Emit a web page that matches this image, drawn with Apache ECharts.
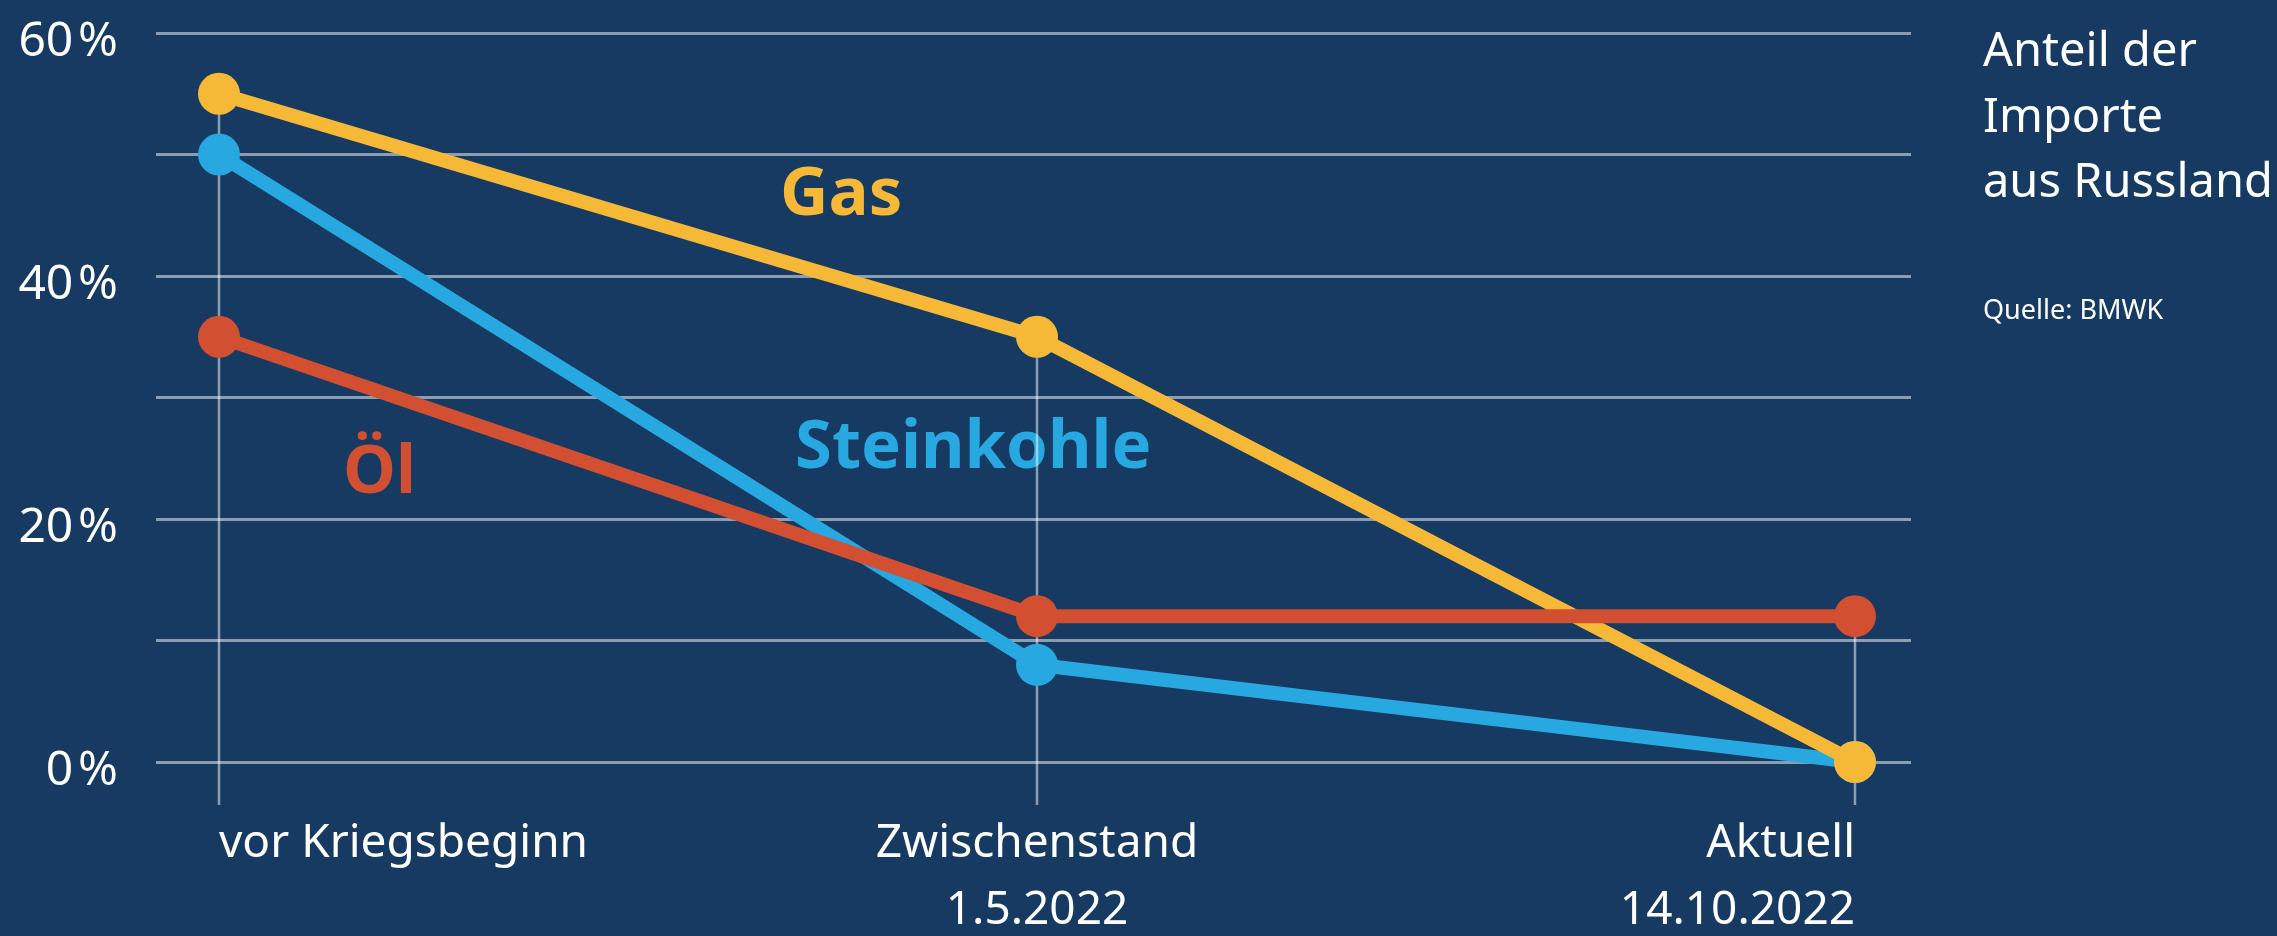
<!DOCTYPE html>
<html>
<head>
<meta charset="utf-8">
<style>
  html, body { margin: 0; padding: 0; background: #163a61; }
  #chart { width: 2277px; height: 936px; }
</style>
<script src="https://cdn.jsdelivr.net/npm/echarts@6/dist/echarts.min.js"></script>
</head>
<body>
<div id="chart"></div>
<script>
const categories = ['vor Kriegsbeginn', 'Zwischenstand\n1.5.2022', 'Aktuell\n14.10.2022']
const gas = [55, 35, 0]
const steinkohle = [50, 8, 0]
const oel = [35, 12, 12]
const yTicks = [0, 20, 40, 60]

const font = '"Noto Sans", "Open Sans", sans-serif'
const gridColor = 'rgba(255,255,255,0.5)'

// highest point per category, for the vertical guide lines
const guide = categories.map((c, i) => [i, Math.max(gas[i], steinkohle[i], oel[i])])

const chart = echarts.init(document.getElementById('chart'))

chart.setOption({
  backgroundColor: '#163a61',
  animation: false,
  title: {
    text: 'Anteil der\nImporte\naus Russland',
    subtext: 'Quelle: BMWK',
    left: 1983,
    top: 20,
    padding: 0,
    itemGap: 80,
    textStyle: { color: '#ffffff', fontFamily: font, fontSize: 47, fontWeight: 'normal', lineHeight: 65.5 },
    subtextStyle: { color: '#ffffff', fontFamily: font, fontSize: 27, lineHeight: 30 }
  },
  grid: [
    { left: 156, right: 366, top: 33, bottom: 174, outerBoundsMode: 'none', containLabel: false },
    { left: 219, right: 422, top: 33, bottom: 174, outerBoundsMode: 'none', containLabel: false }
  ],
  xAxis: [
    { gridIndex: 0, type: 'value', min: 0, max: 1, show: false },
    {
      gridIndex: 1,
      type: 'category',
      data: categories,
      boundaryGap: false,
      axisLine: { show: false },
      axisTick: { show: false },
      splitLine: { show: false },
      axisLabel: {
        color: '#ffffff',
        fontFamily: font,
        fontSize: 46,
        lineHeight: 67,
        margin: 48,
        alignMinLabel: 'left',
        alignMaxLabel: 'right'
      }
    }
  ],
  yAxis: [
    {
      gridIndex: 0,
      type: 'value',
      min: 0,
      max: 60,
      interval: 10,
      axisLine: { show: false },
      axisTick: { show: false },
      splitLine: { lineStyle: { color: gridColor, width: 3 } },
      axisLabel: {
        color: '#ffffff',
        fontFamily: font,
        fontSize: 48,
        margin: 38,
        verticalAlign: 'top',
        lineHeight: 18,
        formatter: v => (yTicks.indexOf(v) >= 0 ? v + '\u200a%' : '')
      }
    },
    { gridIndex: 1, type: 'value', min: 0, max: 60, show: false }
  ],
  graphic: [
    { type: 'text', x: 780, y: 196, style: { text: 'Gas', fill: '#f5b937', font: 'bold 67px ' + font, verticalAlign: 'middle', textVerticalAlign: 'middle' } },
    { type: 'text', x: 795, y: 449, style: { text: 'Steinkohle', fill: '#27a8e0', font: 'bold 67px ' + font, verticalAlign: 'middle', textVerticalAlign: 'middle' } },
    { type: 'text', x: 343, y: 474, style: { text: 'Öl', fill: '#d24f31', font: 'bold 67px ' + font, verticalAlign: 'middle', textVerticalAlign: 'middle' } }
  ],
  series: [
    {
      type: 'custom',
      xAxisIndex: 1,
      yAxisIndex: 1,
      z: 1,
      data: guide,
      renderItem(params, api) {
        const top = api.coord([api.value(0), api.value(1)])
        const base = api.coord([api.value(0), 0])
        return {
          type: 'line',
          shape: { x1: top[0], y1: top[1], x2: base[0], y2: base[1] + 43 },
          style: { stroke: gridColor, lineWidth: 2.5 }
        }
      }
    },
    {
      name: 'Steinkohle',
      type: 'line',
      xAxisIndex: 1,
      yAxisIndex: 1,
      z: 3,
      data: steinkohle,
      symbol: 'circle',
      symbolSize: 42,
      itemStyle: { color: '#27a8e0' },
      lineStyle: { color: '#27a8e0', width: 14 }
    },
    {
      name: 'Gas',
      type: 'line',
      xAxisIndex: 1,
      yAxisIndex: 1,
      z: 4,
      data: gas,
      symbol: 'circle',
      symbolSize: 42,
      itemStyle: { color: '#f5b937' },
      lineStyle: { color: '#f5b937', width: 14 }
    },
    {
      name: 'Öl',
      type: 'line',
      xAxisIndex: 1,
      yAxisIndex: 1,
      z: 5,
      data: oel,
      symbol: 'circle',
      symbolSize: 42,
      itemStyle: { color: '#d24f31' },
      lineStyle: { color: '#d24f31', width: 14 }
    }
  ]
})
</script>
</body>
</html>
